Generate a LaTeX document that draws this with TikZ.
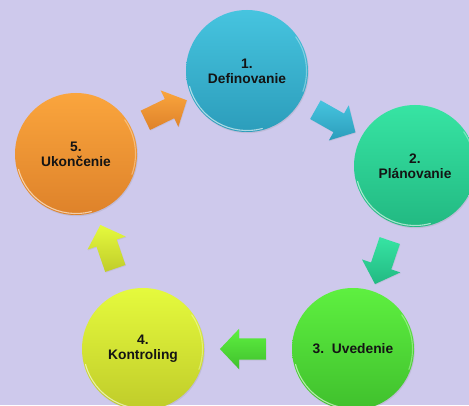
\documentclass[tikz,border=0pt]{standalone}
\usepackage{fontspec}
\setmainfont{Liberation Sans}
\usetikzlibrary{shapes.arrows,calc,shadows}
\definecolor{bg}{HTML}{CEC9EC}
\definecolor{c1t}{HTML}{46C4DF}\definecolor{c1b}{HTML}{2C9DBB}
\definecolor{c2t}{HTML}{37E4A3}\definecolor{c2b}{HTML}{22B982}
\definecolor{c3t}{HTML}{5EF040}\definecolor{c3b}{HTML}{40C02D}
\definecolor{c4t}{HTML}{E5FA3D}\definecolor{c4b}{HTML}{C0CC2A}
\definecolor{c5t}{HTML}{FAA53D}\definecolor{c5b}{HTML}{DE822A}
\begin{document}
\begin{tikzpicture}[x=1pt,y=1pt,
  stage/.style={circle, minimum size=122pt, inner sep=0pt, align=center,
    font=\fontsize{13.8}{15}\selectfont\bfseries, text=black!92,
    drop shadow={opacity=0.18, shadow xshift=0.8pt, shadow yshift=-1.2pt}},
  flow/.style={single arrow, minimum height=46pt, inner xsep=0pt, inner ysep=10.5pt,
    single arrow head extend=9.5pt, single arrow tip angle=93,
    sloped, allow upside down, anchor=center,
    drop shadow={opacity=0.15, shadow xshift=0.6pt, shadow yshift=-0.8pt}},
  gloss/.style={white, opacity=0.6, line width=1.1pt, line cap=round}]
\fill[bg] (0,0) rectangle (469,405);
\useasboundingbox (0,0) rectangle (469,405);
% stages
\node[stage, top color=c1t, bottom color=c1b] (c1) at (247,334) {1.\\Definovanie};
\node[stage, top color=c2t, bottom color=c2b] (c2) at (415,239) {2.\\Plánovanie};
\node[stage, top color=c3t, bottom color=c3b] (c3) at (353,56) {3.\ \ Uvedenie};
\node[stage, top color=c4t, bottom color=c4b] (c4) at (143,56) {4.\\Kontroling};
\node[stage, top color=c5t, bottom color=c5b] (c5) at (76,251) {5.\\Ukončenie};
% glossy rims
\foreach \c in {c1,c2,c3,c4,c5}{
  \draw[gloss] ($(\c.center)+(195:59.5)$) arc[start angle=195, end angle=285, radius=59.5];
  \draw[gloss, opacity=0.35] ($(\c.center)+(-20:59.5)$) arc[start angle=-20, end angle=35, radius=59.5];
}
% block arrows
\path (c1) -- node[flow, top color=c1t, bottom color=c1b] (a1) {} (c2);
\path (c2) -- node[flow, top color=c2t, bottom color=c2b] (a2) {} (c3);
\path (c3) -- node[flow, top color=c3t, bottom color=c3b] (a3) {} (c4);
\path (c4) -- node[flow, top color=c4t, bottom color=c4b] (a4) {} (c5);
\path (c5) -- node[flow, top color=c5t, bottom color=c5b] (a5) {} (c1);
\end{tikzpicture}
\end{document}
